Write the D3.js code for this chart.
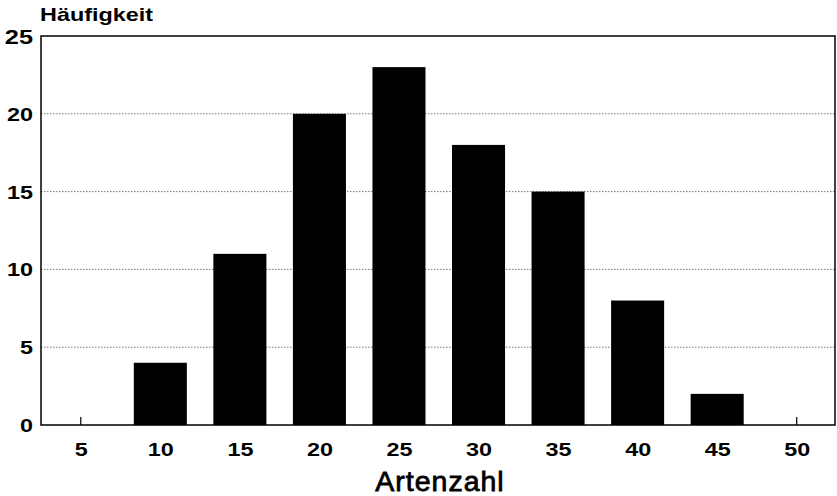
<!DOCTYPE html>
<html><head><meta charset="utf-8">
<script src="https://cdn.jsdelivr.net/npm/d3@7"></script>
<style>body{margin:0;background:#fff}svg{display:block}text{font-family:"Liberation Sans",Arial,sans-serif;fill:#000}</style>
</head><body><svg id="c" width="837" height="496"></svg>
<script>
const categories = [5, 10, 15, 20, 25, 30, 35, 40, 45, 50];
const values = [0, 4, 11, 20, 23, 18, 15, 8, 2, 0];
const yTicks = [0, 5, 10, 15, 20, 25];
const yTitle = "Häufigkeit";
const xTitle = "Artenzahl";

const svg = d3.select("#c");
const L = 41, R = 835, T = 36, B = 425;
const x = d3.scaleLinear().domain([2.5, 52.5]).range([L, R + 1.5]);
const y = d3.scaleLinear().domain([0, 25]).range([B, T]);
const bw = x(5 + 10/3) - x(5);
const SX = 1.3;

// grid
svg.append("g").selectAll("line").data(yTicks.filter(d => d > 0 && d < 25)).join("line")
  .attr("x1", L).attr("x2", R).attr("y1", d => y(d)).attr("y2", d => y(d))
  .attr("stroke", "#777").attr("stroke-width", 1).attr("stroke-dasharray", "1.5,1.5");

// x ticks (inside)
svg.append("g").selectAll("line").data(categories).join("line")
  .attr("x1", d => x(d)).attr("x2", d => x(d)).attr("y1", B).attr("y2", B - 8)
  .attr("stroke", "#000").attr("stroke-width", 1.2);

// bars
svg.append("g").selectAll("rect").data(values).join("rect")
  .attr("x", (d, i) => x(categories[i]) - bw / 2)
  .attr("width", bw)
  .attr("y", d => y(d))
  .attr("height", d => B - y(d))
  .attr("fill", "#000");

// frame
svg.append("rect").attr("x", L).attr("y", T).attr("width", R - L).attr("height", B - T)
  .attr("fill", "none").attr("stroke", "#000").attr("stroke-width", 1.5);

// y axis labels
const ya = d3.axisLeft(y).tickValues(yTicks).tickSize(0).tickPadding(0).tickFormat(d3.format("d"));
const gy = svg.append("g").attr("transform", `translate(${L},0)`).call(ya);
gy.select(".domain").remove();
gy.selectAll("text").attr("x", -8 / SX).attr("font-size", 18).attr("font-weight", "bold")
  .attr("transform", `scale(${SX},1)`)
  .style("font-family", '"Liberation Sans",Arial,sans-serif').attr("dy", "0.36em");
gy.selectAll("text").filter(d => d === 25).attr("font-size", 19.5);

// x axis labels
const xa = d3.axisBottom(x).tickValues(categories).tickSize(0).tickPadding(0).tickFormat(d3.format("d"));
const gx = svg.append("g").attr("transform", `translate(0,${B})`).call(xa);
gx.select(".domain").remove();
gx.selectAll("text").attr("y", 31).attr("dy", null).attr("font-size", 18).attr("font-weight", "bold")
  .attr("transform", `scale(${SX},1)`)
  .style("font-family", '"Liberation Sans",Arial,sans-serif');

svg.append("text").attr("transform", `translate(40,21) scale(${SX},1)`)
  .attr("font-size", 18).attr("font-weight", "bold").text(yTitle);
svg.append("text").attr("x", 440).attr("y", 491).attr("text-anchor", "middle").attr("font-size", 28.5)
  .attr("stroke", "#000").attr("stroke-width", 0.8).attr("letter-spacing", 1).text(xTitle);
</script></body></html>
